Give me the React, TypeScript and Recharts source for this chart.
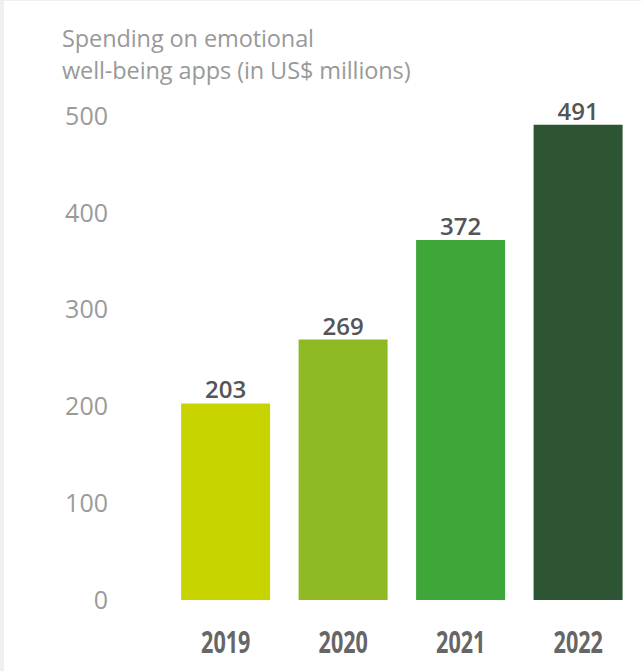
import React from "react";
import { BarChart, Bar, XAxis, YAxis, Cell, LabelList } from "recharts";

const years = ["2019", "2020", "2021", "2022"];
const spending = [203, 269, 372, 491];
const barColors = ["#c8d400", "#8fb923", "#3fa63a", "#2e5533"];
const yTicks = [0, 100, 200, 300, 400, 500];
const titleLines = ["Spending on emotional", "well-being apps (in US$ millions)"];

const data = years.map((y, i) => ({ year: y, value: spending[i] }));

const XTick = (props: any) => {
  const { x, y, payload } = props;
  return (
    <g transform={`translate(${x},${y}) scale(0.72,1)`}>
      <text
        x={0}
        y={0}
        dy="0.71em"
        textAnchor="middle"
        fill="#666"
        fontFamily="'Open Sans', sans-serif"
        fontWeight={700}
        fontSize={30}
      >
        {payload.value}
      </text>
    </g>
  );
};

export default function App() {
  return (
    <div
      style={{
        position: "absolute",
        left: 0,
        top: 0,
        width: 641,
        height: 671,
        background: "#fff",
        overflow: "hidden",
        fontFamily: "'Open Sans', sans-serif",
      }}
    >
      <div style={{ position: "absolute", left: 0, top: 0, width: 4, height: 671, background: "#f0f0f0" }} />
      <div style={{ position: "absolute", left: 0, top: 0, width: 641, height: 1, background: "#eeeeee" }} />
      <div
        style={{
          position: "absolute",
          left: 62,
          top: 22,
          fontSize: 23.5,
          lineHeight: "32px",
          color: "#999",
          letterSpacing: -0.1,
        }}
      >
        {titleLines.map((l) => (
          <div key={l}>{l}</div>
        ))}
      </div>
      <div style={{ position: "absolute", left: 0, top: 0 }}>
        <BarChart
          width={641}
          height={671}
          data={data}
          margin={{ top: 116, right: 4, bottom: 0, left: 0 }}
          barCategoryGap="12%"
        >
          <YAxis
            width={167}
            domain={[0, 500]}
            ticks={yTicks}
            axisLine={false}
            tickLine={false}
            tickSize={0}
            tickMargin={59}
            interval={0}
            tick={{ fill: "#9a9a9a", fontSize: 25, fontFamily: "'Open Sans', sans-serif" }}
          />
          <XAxis
            dataKey="year"
            height={71}
            axisLine={false}
            tickLine={false}
            tickSize={0}
            tickMargin={32}
            interval={0}
            tick={<XTick />}
          />
          <Bar dataKey="value" isAnimationActive={false}>
            {data.map((d, i) => (
              <Cell key={d.year} fill={barColors[i]} />
            ))}
            <LabelList
              dataKey="value"
              position="top"
              offset={5}
              fill="#555"
              fontSize={24}
              fontWeight={600}
              fontFamily="'Open Sans', sans-serif"
            />
          </Bar>
        </BarChart>
      </div>
    </div>
  );
}
